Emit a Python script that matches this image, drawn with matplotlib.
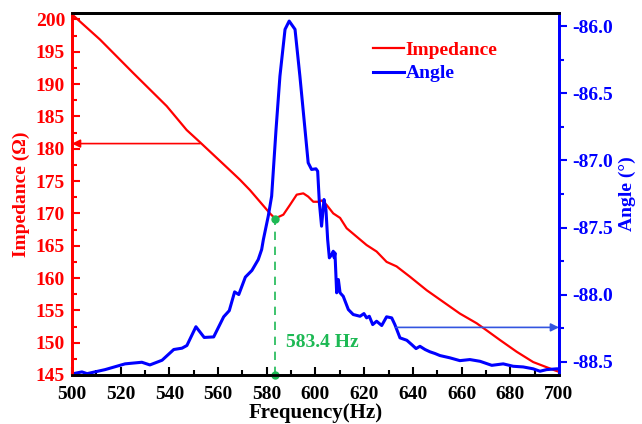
import numpy as np
import matplotlib.pyplot as plt
from matplotlib.ticker import MultipleLocator

plt.rcParams['font.family'] = ['Liberation Serif', 'DejaVu Serif']
plt.rcParams['font.weight'] = 'bold'
plt.rcParams['axes.unicode_minus'] = False

# impedance curve (Ohm)
freq_z = [500, 511.5, 525.2, 538.9, 547.1, 552.6, 559.4, 566.2, 569.0, 573.1,
          577.2, 581.3, 583.4, 586.8, 589.5, 592.3, 595.0, 597.0, 599.1, 601.2,
          602.5, 604.6, 607.3, 610.1, 612.8, 616.9, 621.0, 625.1, 629.2, 633.3,
          638.8, 645.7, 652.5, 659.3, 666.2, 670.3, 675.8, 682.6, 689.4, 698.4, 700]
impedance = [200.8, 196.9, 191.7, 186.6, 182.9, 181.0, 178.6, 176.2, 175.2, 173.6,
             171.8, 170.0, 169.2, 169.8, 171.3, 172.9, 173.1, 172.6, 171.8, 171.8,
             172.0, 171.3, 170.0, 169.3, 167.7, 166.4, 165.1, 164.1, 162.5, 161.8,
             160.2, 158.1, 156.3, 154.5, 153.0, 151.9, 150.4, 148.6, 147.0, 145.7, 145.5]

# phase angle curve (deg)
freq_a = [500, 504.1, 506.2, 513.6, 521.8, 528.7, 532.0, 537.0, 541.8, 545.2,
          547.2, 550.9, 554.3, 558.2, 562.3, 564.6, 566.8, 568.5, 571.2, 573.9,
          576.5, 577.9, 578.6, 580.6, 582.0, 583.8, 585.4, 587.5, 589.2, 591.6,
          593.6, 595.7, 597.0, 598.4, 600.2, 600.9, 601.6, 602.5, 603.5, 604.3,
          605.0, 605.7, 606.7, 607.3, 607.7, 608.0, 608.7, 609.4, 610.1, 611.4,
          613.5, 615.5, 618.3, 619.9, 621.0, 622.1, 623.5, 625.1, 627.2, 629.2,
          631.3, 632.6, 634.7, 637.5, 639.5, 641.3, 642.9, 645.0, 647.0, 649.1,
          651.1, 655.2, 659.3, 663.4, 667.6, 672.4, 677.1, 681.2, 685.3, 689.4,
          692.2, 694.9, 699.1, 700]
angle = [-88.592, -88.577, -88.59, -88.56, -88.517, -88.505, -88.525, -88.49, -88.41, -88.40,
         -88.38, -88.24, -88.32, -88.316, -88.166, -88.12, -87.98, -88.0, -87.87, -87.82,
         -87.739, -87.664, -87.59, -87.416, -87.266, -86.769, -86.371, -86.022, -85.96, -86.022,
         -86.371, -86.769, -87.017, -87.067, -87.062, -87.08, -87.316, -87.49, -87.291, -87.366,
         -87.59, -87.726, -87.701, -87.677, -87.726, -87.689, -87.987, -87.888, -87.987, -88.013,
         -88.112, -88.149, -88.162, -88.142, -88.174, -88.162, -88.224, -88.199, -88.231, -88.166,
         -88.174, -88.224, -88.323, -88.341, -88.373, -88.403, -88.386, -88.41, -88.427, -88.44,
         -88.455, -88.472, -88.493, -88.485, -88.498, -88.528, -88.517, -88.535, -88.54, -88.554,
         -88.572, -88.56, -88.554, -88.555]

f_res = 583.4
z_res = 169.2
z_arrow = 180.8
a_arrow = -88.245

red = '#ff0000'
blue = '#0000ff'
green = '#1db954'

fig = plt.figure(figsize=(6.42, 4.24), dpi=100)
ax = fig.add_axes([0.1121, 0.1156, 0.7586, 0.8537])
ax2 = ax.twinx()

l1, = ax.plot(freq_z, impedance, color=red, lw=1.6, label='Impedance')
l2, = ax2.plot(freq_a, angle, color=blue, lw=2.2, label='Angle')

ax.set_xlim(500, 700)
ax.set_ylim(145, 201)
ax2.set_ylim(-88.6, -85.9)

# resonance marker
ax.plot([f_res, f_res], [145, z_res], color=green, lw=1.2, ls=(0, (5, 4)))
ax.plot([f_res, f_res], [145, z_res], 'o', color=green, ms=5, clip_on=False, zorder=5)
ax.text(f_res + 4.5, 150, '583.4 Hz', color=green, fontsize=14, fontweight='bold', va='center')

# arrows pointing to the matching axes
ax.annotate('', xy=(500, z_arrow), xytext=(552.6, z_arrow),
            arrowprops=dict(arrowstyle='-|>', color=red, lw=1.2, mutation_scale=12,
                            shrinkA=0, shrinkB=0))
ax2.annotate('', xy=(700, a_arrow), xytext=(633, a_arrow),
             arrowprops=dict(arrowstyle='-|>', color='#3355e0', lw=1.2, mutation_scale=12,
                             shrinkA=0, shrinkB=0))

ax.xaxis.set_major_locator(MultipleLocator(20))
ax.xaxis.set_minor_locator(MultipleLocator(10))
ax.yaxis.set_major_locator(MultipleLocator(5))
ax.yaxis.set_minor_locator(MultipleLocator(2.5))
ax2.yaxis.set_major_locator(MultipleLocator(0.5))
ax2.yaxis.set_minor_locator(MultipleLocator(0.25))
ax2.yaxis.set_major_formatter(plt.FormatStrFormatter('%.1f'))

ax.tick_params(axis='x', which='both', direction='in', top=False, labelsize=14, width=1.5, pad=8)
ax.tick_params(axis='x', which='major', length=6)
ax.tick_params(axis='x', which='minor', length=3.5)
ax.tick_params(axis='y', which='both', direction='in', colors=red, labelsize=14, width=1.5, pad=5)
ax.tick_params(axis='y', which='major', length=6)
ax.tick_params(axis='y', which='minor', length=3.5)
ax2.tick_params(axis='y', which='both', direction='out', colors=blue, labelsize=14, width=1.5)
ax2.tick_params(axis='y', which='major', length=6)
ax2.tick_params(axis='y', which='minor', length=3.5)

for a in (ax, ax2):
    for s in a.spines.values():
        s.set_linewidth(2)
ax2.spines['left'].set_color(red)
ax2.spines['right'].set_color(blue)
ax.spines['left'].set_color(red)
ax.spines['right'].set_color(blue)

ax.set_xlabel('Frequency(Hz)', fontsize=15, fontweight='bold', labelpad=0)
ax.set_ylabel('Impedance (\u03a9)', fontsize=14, fontweight='bold', color=red, labelpad=4)
ax2.set_ylabel('Angle (\u00b0)', fontsize=14, fontweight='bold', color=blue, labelpad=4)

leg = ax2.legend([l1, l2], ['Impedance', 'Angle'], loc='upper right',
                 bbox_to_anchor=(0.91, 0.97), frameon=False, fontsize=14,
                 handlelength=1.6, handletextpad=0.1, labelspacing=0.3)
for t, c in zip(leg.get_texts(), [red, blue]):
    t.set_color(c)

fig.savefig('out.png', dpi=100)
